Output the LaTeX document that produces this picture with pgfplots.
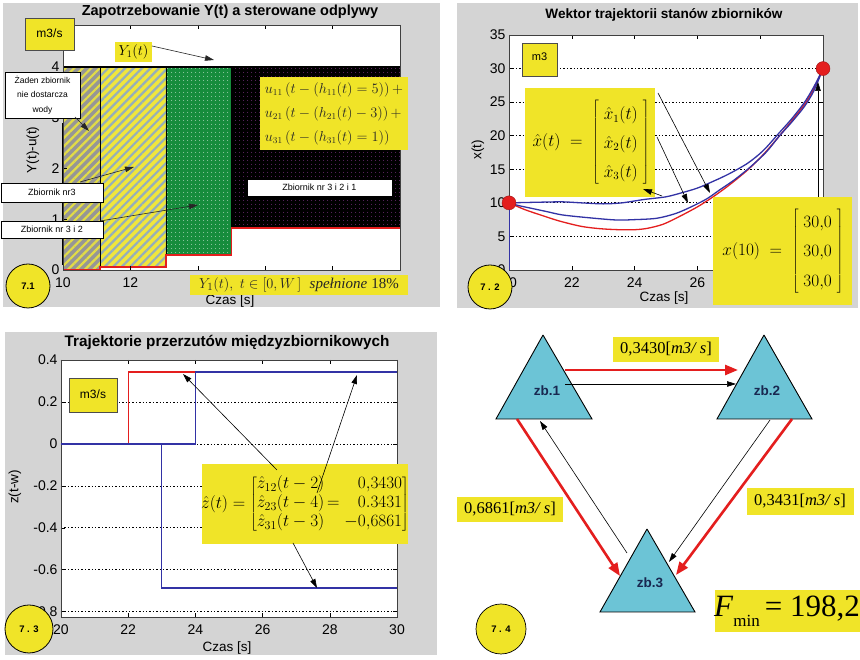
\documentclass[border=0pt]{standalone}
\usepackage{fontspec}
\setmainfont{Liberation Sans}
\newfontfamily\tnr{Liberation Serif}
\usepackage{pgfplots}
\pgfplotsset{compat=1.18}
\usetikzlibrary{patterns.meta,arrows.meta}

\definecolor{bggray}{RGB}{212,212,212}
\definecolor{note}{RGB}{240,228,40}
\definecolor{tri}{RGB}{108,196,214}
\definecolor{mred}{RGB}{228,30,30}
\definecolor{mblue}{RGB}{50,50,165}
\definecolor{hgray}{RGB}{150,150,150}
\definecolor{hyell}{RGB}{226,220,70}
\definecolor{fyell}{RGB}{240,230,60}
\definecolor{stripe}{RGB}{150,175,185}
\definecolor{mgreen}{RGB}{22,140,60}
\definecolor{dotpurple}{RGB}{150,60,160}
\definecolor{navy}{RGB}{25,40,80}

\pgfplotsset{
  mlab/.style={
    scale only axis, anchor=south west,
    tick align=inside, tick pos=both,
    major tick length=4pt,
    every tick/.style={black,line width=0.6pt},
    axis line style={black!75,line width=0.8pt},
    axis background/.style={fill=white},
    /pgf/number format/assume math mode=true,
    ticklabel style={font=\fontsize{14}{14}\selectfont},
    xticklabel style={yshift=-4pt},
    clip=false,
  },
  dgrid/.style={ymajorgrids, grid style={black, line width=0.7pt, dash pattern=on 1.4pt off 2pt}},
}
\tikzset{
  blk/.style={-{Triangle[length=9pt,width=5.5pt]}, line width=0.6pt, black!85},
  redarr/.style={-{Triangle[length=13pt,width=10pt]}, line width=2.6pt, mred},
  thinarr/.style={-{Triangle[length=9pt,width=5.5pt]}, line width=0.6pt, black},
  label/.style={font=\fontsize{13.5}{13.5}\selectfont},
  tag/.style={font=\bfseries\fontsize{9.5}{9.5}\selectfont},
}

\begin{document}
\begin{tikzpicture}
\useasboundingbox (0,0) rectangle (860pt,660pt);
\fill[white] (0,0) rectangle (860pt,660pt);
% panel backgrounds
\begin{scope}[x=1pt,y=-1pt,yshift=660pt]
  \fill[bggray] (3,3) rectangle (440,307);
  \fill[bggray] (457,3) rectangle (858,308);
  \fill[bggray] (5,332) rectangle (437,655);
\end{scope}

% ---------- 7.1: demand and controlled outflows ----------
\begin{axis}[mlab, at={(63pt,390pt)}, width=337pt, height=245pt,
  xmin=10, xmax=20, ymin=0, ymax=4.83,
  xtick={10,12,14,16,18,20}, ytick={0,1,2,3,4}, axis on top]
  \addplot[draw=black, line width=0.5pt, fill=hgray,
    postaction={pattern={Lines[angle=45,distance=6pt,line width=2.2pt]}, pattern color=hyell}]
    coordinates {(10,0)(11.1,0)(11.1,4)(10,4)(10,0)};
  \addplot[draw=black, line width=0.5pt, fill=fyell,
    postaction={pattern={Lines[angle=45,distance=6pt,line width=2.2pt]}, pattern color=stripe}]
    coordinates {(11.1,0.06)(13.05,0.06)(13.05,4)(11.1,4)(11.1,0.06)};
  \addplot[draw=black, line width=0.5pt, fill=mgreen,
    postaction={pattern={Dots[radius=0.55pt,distance=4pt]}, pattern color=white!85!mgreen}]
    coordinates {(13.05,0.3)(15,0.3)(15,4)(13.05,4)(13.05,0.3)};
  \addplot[draw=black, line width=0.5pt, fill=black,
    postaction={pattern={Dots[radius=0.55pt,distance=4pt]}, pattern color=dotpurple}]
    coordinates {(15,0.82)(20,0.82)(20,4)(15,4)(15,0.82)};
  \addplot[mred, line width=1.8pt] coordinates
    {(10,0)(11.1,0)(11.1,0.06)(13.05,0.06)(13.05,0.3)(15,0.3)(15,0.82)(20,0.82)};
  \addplot[black, line width=1.8pt] coordinates {(10,4)(20,4)};
  \addplot[black, line width=1.4pt] coordinates {(10,0.1)(10,2.9)};
\end{axis}

% ---------- 7.2: tank state trajectories ----------
\begin{axis}[mlab, dgrid, at={(509pt,390pt)}, width=314pt, height=235pt,
  xmin=20, xmax=30, ymin=0, ymax=35,
  xtick={20,22,24,26,28,30}, ytick={0,5,10,15,20,25,30,35}]
  \addplot[mblue, line width=1pt] coordinates {(20,0)(20,10)};
  \addplot[mred, line width=1.3pt, smooth] coordinates {
    (20,10)(20.5,9.0)(21,8.2)(21.6,7.3)(22.3,6.5)(22.9,6.15)(23.5,6.0)(24,6.0)
    (24.4,6.2)(24.9,6.8)(25.4,7.9)(26,9.4)(26.5,10.9)(27,12.6)(27.6,14.9)
    (28.1,17.2)(28.6,19.9)(29,22.2)(29.4,24.6)(29.7,26.9)(30,30)};
  \addplot[mblue, line width=1.3pt, smooth] coordinates {
    (20,10)(20.3,9.6)(20.7,9.2)(21.2,8.7)(21.7,8.2)(22.5,7.8)(23.4,7.45)(24,7.5)
    (24.7,7.7)(25.3,8.4)(25.8,9.4)(26.3,10.6)(26.7,11.9)(27.2,13.5)(27.7,15.4)
    (28.2,17.6)(28.6,19.9)(29,22)(29.4,24.3)(29.7,26.6)(30,30)};
  \addplot[mblue, line width=1.3pt, smooth] coordinates {
    (20,10)(20.5,10.05)(21,10.1)(21.7,10.15)(22.3,10.0)(23,9.85)(23.6,10.0)
    (24.3,10.5)(25,10.9)(25.5,11.5)(26,12.2)(26.5,13.2)(27,14.3)(27.6,15.9)
    (28.1,17.8)(28.6,20.4)(29,22.5)(29.4,24.9)(29.7,27.2)(30,30)};
  \addplot[only marks, mark=*, mark size=7pt,
    mark options={draw=mred!70!black, fill=mred}] coordinates {(20,10)(30,30)};
\end{axis}

% ---------- 7.3: inter-tank transfer trajectories ----------
\begin{axis}[mlab, dgrid, at={(61pt,43pt)}, width=336pt, height=257pt,
  xmin=20, xmax=30, ymin=-0.825, ymax=0.4,
  xtick={20,22,24,26,28,30}, ytick={-0.8,-0.6,-0.4,-0.2,0,0.2,0.4}]
  \addplot[mred, line width=1.3pt] coordinates {(20,0)(22,0)(22,0.3430)(30,0.3430)};
  \addplot[mblue, line width=1.3pt] coordinates {(20,0)(24,0)(24,0.3431)(30,0.3431)};
  \addplot[mblue, line width=1.3pt] coordinates {(20,0)(23,0)(23,-0.6861)(30,-0.6861)};
\end{axis}

% ---------- 7.4: tank network ----------
\begin{axis}[at={(440pt,0pt)}, anchor=south west, scale only axis, hide axis,
  width=420pt, height=335pt, xmin=440, xmax=860, ymin=0, ymax=335, clip=false]
  \addplot[draw=black, line width=0.9pt, fill=tri] coordinates {(543,325)(592,241)(496,241)(543,325)};
  \addplot[draw=black, line width=0.9pt, fill=tri] coordinates {(764,325)(812,241)(717,241)(764,325)};
  \addplot[draw=black, line width=0.9pt, fill=tri] coordinates {(647,131)(695,48)(600,48)(647,131)};
  \node[font=\bfseries\fontsize{13.5}{13.5}\selectfont, text=navy] at (547,269) {zb.1};
  \node[font=\bfseries\fontsize{13.5}{13.5}\selectfont, text=navy] at (767,269) {zb.2};
  \node[font=\bfseries\fontsize{13.5}{13.5}\selectfont, text=navy] at (650,77) {zb.3};
  \draw[redarr] (565,290) -- (738,290);
  \draw[thinarr] (565,276) -- (736,276);
  \draw[redarr] (517,241) -- (620,84);
  \draw[thinarr] (627,107) -- (540,239);
  \draw[thinarr] (770,240) -- (669,98);
  \draw[redarr] (792,241) -- (676,85);
  \fill[note] (613,298) rectangle (719,323);
  \node[font=\tnr\fontsize{16.5}{16.5}\selectfont] at (666,310.5) {0,3430[\textit{m3/ s}]};
  \fill[note] (457,138) rectangle (563,163);
  \node[font=\tnr\fontsize{16.5}{16.5}\selectfont] at (510,150.5) {0,6861[\textit{m3/ s}]};
  \fill[note] (747,145) rectangle (854,172);
  \node[font=\tnr\fontsize{16.5}{16.5}\selectfont] at (800,158.5) {0,3431[\textit{m3/ s}]};
  \fill[note] (715,28) rectangle (860,70);
  \node[font=\tnr\fontsize{31}{31}\selectfont] at (787,49)
    {\textit{F}\raisebox{-0.32em}{\fontsize{17}{17}\selectfont min}\,= 198,2};
  \draw[fill=note, line width=0.7pt] (501,31) circle[radius=25pt];
  \node[tag] at (501,31) {7 . 4};
\end{axis}

% ---------- labels and notes ----------
\begin{scope}[x=1pt,y=-1pt,yshift=660pt]
  % 7.1
  \node[font=\bfseries\fontsize{14.5}{14.5}\selectfont] at (230,12) {Zapotrzebowanie Y(t) a sterowane odplywy};
  \node[label, rotate=90] at (33,150) {Y(t)-u(t)};
  \node[label] at (230,301) {Czas [s]};
  \draw[fill=note, draw=black!70, line width=0.6pt] (25,18) rectangle (74,50);
  \node[font=\fontsize{12}{12}\selectfont] at (49.5,33) {m3/s};
  \fill[note] (115,42) rectangle (152,62);
  \node[font=\fontsize{14}{14}\selectfont] at (133.5,52) {$Y_1(t)$};
  \draw[blk] (152,46) -- (214,60);
  \draw[fill=white, line width=0.6pt] (5,72) rectangle (80,118);
  \node[font=\fontsize{8.5}{14.5}\selectfont, align=center] at (42.5,95)
    {Żaden zbiornik\\nie dostarcza\\wody};
  \draw[blk] (75,117) -- (89,131);
  \draw[fill=white, line width=0.5pt] (1,183) rectangle (103,202);
  \node[font=\fontsize{9}{9}\selectfont] at (52,192.5) {Zbiornik nr3};
  \draw[blk] (80,182) -- (134,167);
  \draw[fill=white, line width=0.5pt] (1,221) rectangle (103,238);
  \node[font=\fontsize{9}{9}\selectfont] at (52,229.5) {Zbiornik nr 3 i 2};
  \draw[blk] (100,221) -- (198,205);
  \draw[fill=white, line width=0.5pt] (247,179) rectangle (392,196);
  \node[font=\fontsize{9}{9}\selectfont] at (319.5,187.5) {Zbiornik nr 3 i 2 i 1};
  \fill[note] (260,77) rectangle (408,150);
  \node[font=\fontsize{13.5}{24}\selectfont, align=left, text=black!85] at (334,113.5)
    {$u_{11}\,(t-(h_{11}(t)=5))\,+$\\$u_{21}\,(t-(h_{21}(t)-3))\,+$\\$u_{31}\,(t-(h_{31}(t)=1))$};
  \fill[note] (190,275) rectangle (408,295);
  \node[font=\fontsize{15}{15}\selectfont, text=black!85] at (299,285)
    {$Y_1(t),\ t\in[0,W\,]$\ \ {\tnr\itshape spełnione} {\tnr 18\%}};
  \draw[fill=note, line width=0.8pt] (28,286) circle[radius=22pt];
  \node[tag] at (28,286) {7.1};

  % 7.2
  \node[font=\bfseries\fontsize{13.6}{13.6}\selectfont] at (664,15) {Wektor trajektorii stanów zbiorników};
  \node[label, rotate=90] at (478,150) {x(t)};
  \node[label] at (664,298) {Czas [s]};
  \draw[fill=note, draw=black!70, line width=0.6pt] (522,43) rectangle (557,76);
  \node[font=\fontsize{11}{11}\selectfont] at (539.5,57) {m3};
  \fill[note] (525,88) rectangle (655,197);
  \node[font=\fontsize{16}{16}\selectfont] at (591,142.5)
    {$\hat{x}(t)\;=\;\left[\renewcommand{\arraystretch}{1.8}\begin{array}{c}\hat{x}_1(t)\\ \hat{x}_2(t)\\ \hat{x}_3(t)\end{array}\right]$};
  \draw[thinarr] (658,93) -- (710,193);
  \draw[thinarr] (657,137) -- (688,203);
  \draw[thinarr] (662,196) -- (643,189);
  \draw[thinarr] (818,197) -- (818,82);
  \fill[note] (713,197) rectangle (852,305);
  \node[font=\fontsize{18.5}{18.5}\selectfont] at (783,251)
    {$x(10)\;=\;\left[\renewcommand{\arraystretch}{1.6}\begin{array}{c}30{,}0\\ 30{,}0\\ 30{,}0\end{array}\right]$};
  \draw[fill=note, line width=0.8pt] (490,287) circle[radius=22pt];
  \node[tag] at (490,287) {7 . 2};

  % 7.3
  \node[font=\bfseries\fontsize{15.3}{15.3}\selectfont] at (227,342) {Trajektorie przerzutów międzyzbiornikowych};
  \node[label, rotate=90] at (15,487) {z(t-w)};
  \node[label] at (227,648) {Czas [s]};
  \draw[fill=note, draw=black!70, line width=0.6pt] (69,378) rectangle (117,412);
  \node[font=\fontsize{12}{12}\selectfont] at (93,394) {m3/s};
  \fill[note] (202,464) rectangle (408,544);
  \node[font=\fontsize{16.5}{16.5}\selectfont] at (305,504)
    {$\hat{z}(t)=\left[\renewcommand{\arraystretch}{1.15}\begin{array}{@{}l@{\,}c@{\;}r@{}}\hat{z}_{12}(t-2) & & 0{,}3430\\ \hat{z}_{23}(t-4) & = & 0.3431\\ \hat{z}_{31}(t-3) & & -0{,}6861\end{array}\right]$};
  \draw[thinarr] (277,470) -- (183,374);
  \draw[thinarr] (317,493) -- (357,375);
  \draw[thinarr] (293,543) -- (317,588);
  \draw[fill=note, line width=0.8pt] (29,629) circle[radius=24pt];
  \node[tag] at (29,629) {7 . 3};
\end{scope}
\end{tikzpicture}
\end{document}
